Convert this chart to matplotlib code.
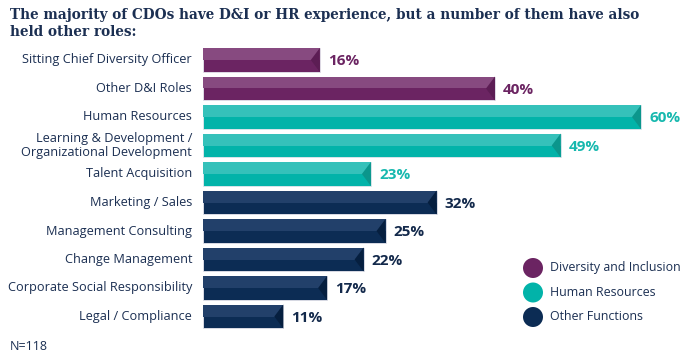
import matplotlib.pyplot as plt
from matplotlib.patches import Rectangle, Polygon, Circle

categories = ['Sitting Chief Diversity Officer', 'Other D&I Roles', 'Human Resources',
              'Learning & Development /\nOrganizational Development', 'Talent Acquisition',
              'Marketing / Sales', 'Management Consulting', 'Change Management',
              'Corporate Social Responsibility', 'Legal / Compliance']
values = [16, 40, 60, 49, 23, 32, 25, 22, 17, 11]
groups = ['di', 'di', 'hr', 'hr', 'hr', 'other', 'other', 'other', 'other', 'other']
group_names = {'di': 'Diversity and Inclusion', 'hr': 'Human Resources', 'other': 'Other Functions'}

# top, bottom, notch, label
colors = {
    'di': ('#874a80', '#6b2462', '#5c1d54', '#6b2462'),
    'hr': ('#35c1ba', '#02b3a9', '#0b968c', '#16b8ae'),
    'other': ('#22406a', '#0c2c54', '#061f3f', '#13294b'),
}
navy = '#1b2f52'

W, H = 700, 362
fig = plt.figure(figsize=(W / 100, H / 100), dpi=100)

# axes: x 0..60 maps to px 203..641
x0, x1 = 203, 700
xmax = 60 * (x1 - x0) / 438
top_px, bot_px = 45.75, 330.75
ax = fig.add_axes([x0 / W, 1 - bot_px / H, (x1 - x0) / W, (bot_px - top_px) / H])
ax.set_xlim(0, xmax)
ax.set_ylim(len(values) - 0.5, -0.5)
ax.axis('off')

bh = 0.84
notch = 9 / 7.3
for i, (v, g) in enumerate(zip(values, groups)):
    ctop, cbot, cn, clab = colors[g]
    ax.add_patch(Rectangle((0, i - bh / 2), v, bh, facecolor=cbot, edgecolor='#e6e6ee', lw=0.6))
    ax.add_patch(Rectangle((0, i - bh / 2), v, bh / 2, facecolor=ctop, edgecolor='none'))
    ax.add_patch(Polygon([(v, i - bh / 2), (v, i + bh / 2), (v - notch, i)],
                         closed=True, facecolor=cn, edgecolor='none'))
    ax.text(v + 1.1, i + 0.05, f'{v}%', ha='left', va='center', fontsize=11,
            fontweight='bold', color=clab, family='Open Sans')

for i, c in enumerate(categories):
    ax.text(-1.5, i, c, ha='right', va='center', fontsize=9.2, color=navy,
            family='Open Sans', linespacing=1.15)

fig.text(10 / W, 1 - 15 / H, 'The majority of CDOs have D&I or HR experience, but a number of them have also',
         ha='left', va='center', fontsize=9.8, fontweight='bold', color=navy, family='DejaVu Serif')
fig.text(10 / W, 1 - 32 / H, 'held other roles:',
         ha='left', va='center', fontsize=9.8, fontweight='bold', color=navy, family='DejaVu Serif')
fig.text(10 / W, 1 - 347 / H, 'N=118', ha='left', va='center', fontsize=9, color=navy, family='Open Sans')

# legend
for j, g in enumerate(['di', 'hr', 'other']):
    yc = 268 + 24.5 * j
    fig.patches.append(Circle((5.33, (H - yc) / 100), 0.10, transform=fig.dpi_scale_trans,
                              facecolor=colors[g][1], edgecolor='none'))
    fig.text(550 / W, 1 - yc / H, group_names[g], ha='left', va='center', fontsize=8.9,
             color=navy, family='Open Sans')

fig.savefig('out.png', dpi=100)
